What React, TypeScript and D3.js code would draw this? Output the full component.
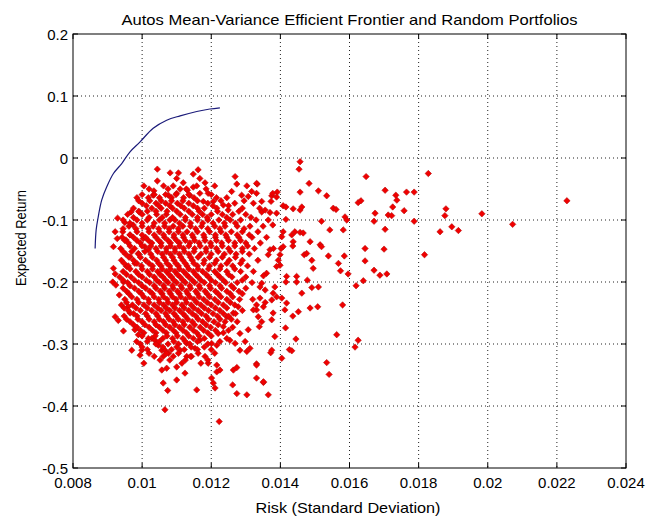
import React from "react";
import * as d3 from "d3";

const W = 646;
const H = 517;

const titleText = "Autos Mean-Variance Efficient Frontier and Random Portfolios";
const xLabelText = "Risk (Standard Deviation)";
const yLabelText = "Expected Return";

const xTickValues = [0.008, 0.01, 0.012, 0.014, 0.016, 0.018, 0.02, 0.022, 0.024];
const xTickLabels = ["0.008", "0.01", "0.012", "0.014", "0.016", "0.018", "0.02", "0.022", "0.024"];
const yTickValues = [0.2, 0.1, 0, -0.1, -0.2, -0.3, -0.4, -0.5];
const yTickLabels = ["0.2", "0.1", "0", "-0.1", "-0.2", "-0.3", "-0.4", "-0.5"];

const frontierRisk = [0.00864, 0.00867, 0.00873, 0.00883, 0.00898, 0.00917, 0.00941, 0.00965, 0.00994, 0.01032, 0.01071, 0.0111, 0.01158, 0.01196, 0.01225];
const frontierReturn = [-0.146, -0.116, -0.095, -0.068, -0.046, -0.025, -0.009, 0.01, 0.026, 0.048, 0.061, 0.068, 0.075, 0.079, 0.081];

// scattered random portfolios (risk, return)
const sparsePortfolios: [number, number][] = [
  [0.01828, -0.025], [0.01879, -0.082], [0.01876, -0.093], [0.01983, -0.09], [0.01862, -0.119],
  [0.01896, -0.111], [0.01915, -0.117], [0.01817, -0.156], [0.02072, -0.107], [0.02229, -0.069],
  [0.01457, -0.006], [0.01454, -0.018], [0.01648, -0.03], [0.01483, -0.041], [0.01703, -0.052],
  [0.01765, -0.055], [0.01787, -0.055], [0.01734, -0.06], [0.01737, -0.068], [0.01333, -0.042],
  [0.01331, -0.057], [0.0151, -0.053], [0.01534, -0.061], [0.01457, -0.055], [0.01625, -0.072],
  [0.01633, -0.069], [0.01725, -0.079], [0.01758, -0.085], [0.01674, -0.089], [0.01553, -0.081],
  [0.01561, -0.083], [0.01587, -0.095], [0.01592, -0.1], [0.01712, -0.092], [0.01722, -0.093],
  [0.01787, -0.102], [0.01671, -0.102], [0.01703, -0.115], [0.01582, -0.116], [0.01543, -0.116],
  [0.01519, -0.102], [0.01645, -0.146], [0.017, -0.147], [0.01645, -0.166], [0.01671, -0.181],
  [0.01688, -0.189], [0.01708, -0.187], [0.01585, -0.158], [0.01568, -0.17], [0.01574, -0.182],
  [0.01596, -0.187], [0.01539, -0.158], [0.01619, -0.206], [0.0164, -0.198], [0.0158, -0.237],
  [0.01563, -0.285], [0.01625, -0.294], [0.01616, -0.305], [0.01534, -0.33], [0.01541, -0.349],
  [0.01508, -0.24], [0.01486, -0.242], [0.0151, -0.208], [0.01491, -0.209], [0.01495, -0.178],
  [0.01491, -0.165], [0.01478, -0.197], [0.01447, -0.191], [0.01462, -0.218], [0.01452, -0.248],
  [0.01445, -0.292], [0.01426, -0.309], [0.01433, -0.311], [0.01404, -0.323], [0.01415, -0.274],
  [0.01436, -0.255], [0.01372, -0.314], [0.01331, -0.332], [0.01331, -0.355], [0.01351, -0.362],
  [0.01365, -0.382], [0.01486, -0.135], [0.01515, -0.14], [0.01519, -0.143], [0.01416, -0.099],
  [0.01437, -0.082], [0.01457, -0.084], [0.01462, -0.079], [0.01408, -0.077], [0.01416, -0.079],
  [0.01391, -0.055], [0.01375, -0.061], [0.01389, -0.063], [0.01373, -0.07], [0.01346, -0.087],
  [0.01356, -0.084], [0.01365, -0.1], [0.01378, -0.108], [0.01408, -0.119], [0.01404, -0.127],
  [0.01433, -0.124], [0.01442, -0.119], [0.01457, -0.12], [0.01466, -0.121], [0.01437, -0.135],
  [0.01436, -0.142], [0.01469, -0.156], [0.01476, -0.154], [0.01402, -0.146], [0.01408, -0.143],
  [0.0137, -0.148], [0.01365, -0.156], [0.01399, -0.156], [0.01394, -0.165], [0.01399, -0.173],
  [0.01389, -0.175], [0.01418, -0.191], [0.01416, -0.2], [0.01447, -0.2], [0.0136, -0.186],
  [0.01351, -0.19], [0.01346, -0.202], [0.01341, -0.208], [0.01384, -0.208], [0.01379, -0.218],
  [0.01389, -0.224], [0.01404, -0.226], [0.01356, -0.233], [0.01351, -0.24], [0.01331, -0.245],
  [0.01336, -0.256], [0.01346, -0.264], [0.01339, -0.272], [0.01379, -0.25], [0.01375, -0.261],
  [0.01418, -0.234], [0.01413, -0.245], [0.01384, -0.288],
  [0.01044, -0.018], [0.01044, -0.037], [0.01081, -0.024], [0.011, -0.033], [0.01105, -0.024],
  [0.01148, -0.026], [0.01162, -0.019], [0.01167, -0.033], [0.01119, -0.04], [0.01148, -0.047],
  [0.01182, -0.04], [0.01034, -0.053], [0.01032, -0.06], [0.01076, -0.06], [0.011, -0.057],
  [0.0111, -0.05], [0.01131, -0.052], [0.01138, -0.06], [0.01167, -0.057], [0.01191, -0.057],
  [0.01177, -0.07], [0.01206, -0.07], [0.01216, -0.081], [0.01235, -0.076], [0.01249, -0.084],
  [0.01269, -0.03], [0.01274, -0.042], [0.01303, -0.045], [0.01331, -0.041], [0.01259, -0.054],
  [0.01288, -0.06], [0.01307, -0.062], [0.01317, -0.054], [0.01346, -0.07], [0.01378, -0.057],
  [0.0137, -0.088], [0.01389, -0.089], [0.00968, -0.087], [0.00992, -0.087], [0.00929, -0.097],
  [0.0095, -0.104], [0.00974, -0.108], [0.00944, -0.119], [0.00965, -0.124], [0.00953, -0.132],
  [0.00922, -0.119], [0.00928, -0.13], [0.00917, -0.143], [0.00917, -0.178], [0.00922, -0.187],
  [0.00915, -0.2], [0.00924, -0.205], [0.00934, -0.221], [0.01003, -0.13], [0.01008, -0.143],
  [0.01018, -0.148], [0.00989, -0.154], [0.00965, -0.159], [0.00979, -0.17], [0.00955, -0.175],
  [0.00946, -0.2], [0.00922, -0.256], [0.00931, -0.262], [0.00965, -0.25], [0.0096, -0.24],
  [0.00946, -0.279], [0.0097, -0.31], [0.00999, -0.31], [0.00994, -0.318], [0.00984, -0.296],
  [0.00989, -0.285], [0.00979, -0.277], [0.01047, -0.302], [0.01057, -0.31], [0.01066, -0.31],
  [0.01061, -0.32], [0.01052, -0.326], [0.01076, -0.315], [0.01028, -0.291], [0.01037, -0.294],
  [0.01057, -0.342], [0.01071, -0.339], [0.01061, -0.363], [0.01074, -0.375], [0.011, -0.337],
  [0.011, -0.358], [0.01129, -0.32], [0.01143, -0.32], [0.01124, -0.347], [0.01158, -0.374],
  [0.01066, -0.406], [0.01223, -0.425], [0.01182, -0.32], [0.01191, -0.331], [0.01216, -0.334],
  [0.01216, -0.345], [0.01225, -0.342], [0.01201, -0.355], [0.01206, -0.363], [0.01211, -0.371],
  [0.01264, -0.342], [0.01274, -0.338], [0.01262, -0.366], [0.01274, -0.38], [0.01303, -0.382],
  [0.01331, -0.334], [0.01351, -0.361], [0.01375, -0.31], [0.01283, -0.31], [0.01303, -0.312],
  [0.01312, -0.307], [0.01269, -0.299], [0.01298, -0.296], [0.01307, -0.277], [0.01322, -0.245],
  [0.01331, -0.237], [0.01341, -0.226], [0.01356, -0.213], [0.01375, -0.229], [0.0122, -0.283],
  [0.01235, -0.272], [0.01254, -0.294], [0.01283, -0.283], [0.01245, -0.256], [0.01264, -0.25],
  [0.01278, -0.24], [0.01201, -0.299], [0.01216, -0.302], [0.01129, -0.299], [0.01153, -0.307],
  [0.01167, -0.294], [0.0111, -0.31],
];

// dense core of random portfolios: one return level per row with the risks read along it
const coreReturns = [
  -0.045, -0.064, -0.073, -0.081, -0.091, -0.1, -0.11, -0.119, -0.128, -0.137, -0.146, -0.155,
  -0.165, -0.174, -0.183, -0.192, -0.201, -0.21, -0.219, -0.228, -0.237, -0.246, -0.255, -0.264,
  -0.273, -0.282, -0.291, -0.3, -0.309, -0.32, -0.331,
];
const coreRisks: number[][] = [
  [0.01005, 0.01062, 0.0109, 0.01158, 0.0121],
  [0.00985, 0.01018, 0.0105, 0.01085, 0.0112, 0.0115, 0.01215, 0.01245],
  [0.01, 0.0104, 0.01068, 0.01102, 0.01135, 0.0119, 0.01268, 0.01322],
  [0.00975, 0.01028, 0.01055, 0.01088, 0.01122, 0.0116, 0.0118, 0.0129, 0.0134],
  [0.00958, 0.01, 0.01042, 0.0107, 0.0111, 0.01145, 0.01175, 0.012, 0.01232, 0.01262, 0.013],
  [0.00945, 0.00985, 0.01015, 0.0105, 0.0108, 0.01095, 0.01125, 0.0116, 0.0119, 0.01222, 0.01255, 0.01285, 0.0133],
  [0.00962, 0.01, 0.01032, 0.01065, 0.0109, 0.01118, 0.0114, 0.01172, 0.0121, 0.0124, 0.01275, 0.01312, 0.0135],
  [0.00985, 0.0102, 0.0105, 0.01078, 0.01105, 0.0113, 0.0116, 0.01195, 0.01228, 0.01258, 0.0129, 0.01335],
  [0.00942, 0.00975, 0.0101, 0.0104, 0.01065, 0.01092, 0.0112, 0.01148, 0.0118, 0.01212, 0.01245, 0.0128, 0.01318, 0.0136],
  [0.0096, 0.00995, 0.01028, 0.01055, 0.01082, 0.01108, 0.01138, 0.01165, 0.01198, 0.0123, 0.01268, 0.013, 0.01342],
  [0.00938, 0.00978, 0.0104, 0.0107, 0.01095, 0.0112, 0.01152, 0.01185, 0.01215, 0.0125, 0.0129, 0.01325, 0.0138],
  [0.00952, 0.0099, 0.01025, 0.01058, 0.01082, 0.01108, 0.01135, 0.0117, 0.012, 0.01238, 0.01272, 0.0131],
  [0.0094, 0.00975, 0.0101, 0.01042, 0.01068, 0.01092, 0.01118, 0.01145, 0.0118, 0.01215, 0.01252, 0.0129, 0.01335],
  [0.0096, 0.00998, 0.0103, 0.01055, 0.0108, 0.01105, 0.0113, 0.0116, 0.01195, 0.01228, 0.01262, 0.01305],
  [0.00945, 0.00982, 0.01015, 0.01045, 0.0107, 0.01095, 0.0112, 0.01148, 0.01175, 0.0121, 0.01245, 0.01285, 0.01322],
  [0.00935, 0.00968, 0.01, 0.01035, 0.0106, 0.01085, 0.0111, 0.01135, 0.01162, 0.01192, 0.01225, 0.0126, 0.013],
  [0.00958, 0.0099, 0.01022, 0.0105, 0.01075, 0.011, 0.01125, 0.01152, 0.0118, 0.01212, 0.01242, 0.01275, 0.01318],
  [0.00945, 0.00978, 0.0101, 0.0104, 0.01065, 0.0109, 0.01115, 0.0114, 0.01168, 0.01198, 0.0123, 0.01265, 0.013],
  [0.00962, 0.00998, 0.0103, 0.01058, 0.01082, 0.01108, 0.01132, 0.0116, 0.01188, 0.0122, 0.01255, 0.0129],
  [0.0095, 0.00985, 0.01018, 0.01048, 0.01072, 0.01098, 0.01125, 0.0115, 0.01178, 0.0121, 0.01245, 0.01282, 0.0132],
  [0.0094, 0.00972, 0.01005, 0.01035, 0.01062, 0.01088, 0.01115, 0.01142, 0.0117, 0.012, 0.01235, 0.01268],
  [0.0096, 0.00995, 0.01028, 0.01055, 0.0108, 0.01108, 0.01135, 0.01162, 0.01192, 0.01225, 0.0129],
  [0.00948, 0.00985, 0.01015, 0.01045, 0.01072, 0.01098, 0.01125, 0.01155, 0.01185, 0.01218, 0.0125],
  [0.00965, 0.01, 0.01035, 0.01062, 0.0109, 0.01118, 0.01145, 0.01175, 0.01208, 0.0124, 0.01275],
  [0.00985, 0.0102, 0.0105, 0.0108, 0.01108, 0.01138, 0.01168, 0.01198, 0.01262],
  [0.01005, 0.0104, 0.0107, 0.01098, 0.01128, 0.01158, 0.0119, 0.01235],
  [0.01018, 0.0106, 0.01088, 0.01118, 0.01148, 0.0118, 0.01245],
  [0.00995, 0.0104, 0.01075, 0.01105, 0.01138, 0.0119],
  [0.01015, 0.01085, 0.01122, 0.0116, 0.012],
  [0.01035, 0.0109, 0.0114],
  [0.01005, 0.01115, 0.0117],
];

// in-between rows of the dense core
const coreReturnsB = [
  -0.05, -0.059, -0.069, -0.077, -0.086, -0.096, -0.105, -0.114, -0.124, -0.133, -0.142, -0.151,
  -0.16, -0.17, -0.179, -0.188, -0.197, -0.206, -0.215, -0.224, -0.233, -0.242, -0.251, -0.26,
  -0.269, -0.278, -0.287, -0.296, -0.305, -0.315, -0.326,
];
const coreRisksB: number[][] = [
  [0.0102, 0.01075, 0.01128, 0.01185],
  [0.01, 0.01035, 0.01068, 0.01098, 0.01135, 0.012],
  [0.0099, 0.01022, 0.01055, 0.01085, 0.01118, 0.0116, 0.01228, 0.01295],
  [0.01012, 0.01048, 0.0108, 0.01112, 0.01148, 0.01205, 0.0125],
  [0.0099, 0.01015, 0.0104, 0.01072, 0.011, 0.01135, 0.01165, 0.01218, 0.0128],
  [0.00975, 0.0102, 0.01058, 0.01088, 0.01125, 0.0116, 0.01188, 0.01245, 0.01315],
  [0.00965, 0.01, 0.01035, 0.01065, 0.01108, 0.0114, 0.01175, 0.01205, 0.01238, 0.0127],
  [0.00945, 0.00982, 0.01018, 0.01048, 0.01078, 0.01105, 0.01155, 0.0119, 0.01225, 0.01295],
  [0.00965, 0.01, 0.01035, 0.01062, 0.01092, 0.01118, 0.01145, 0.01178, 0.01212, 0.01242, 0.01275, 0.0131],
  [0.0095, 0.00985, 0.01018, 0.01048, 0.01075, 0.011, 0.01125, 0.01152, 0.01182, 0.01215, 0.0125, 0.01285],
  [0.00965, 0.01, 0.01025, 0.01055, 0.01082, 0.01108, 0.01135, 0.01168, 0.012, 0.01232, 0.01268, 0.01305],
  [0.00945, 0.0097, 0.01008, 0.01045, 0.0107, 0.01095, 0.01122, 0.0115, 0.01185, 0.0122, 0.01255, 0.0129],
  [0.00962, 0.00995, 0.0103, 0.01062, 0.01088, 0.01112, 0.0114, 0.01162, 0.01195, 0.01232, 0.0127],
  [0.00948, 0.00985, 0.0102, 0.01048, 0.01072, 0.01098, 0.01125, 0.0115, 0.01178, 0.0121, 0.01245, 0.01285],
  [0.00965, 0.01, 0.0103, 0.01058, 0.01082, 0.01108, 0.01135, 0.01162, 0.01192, 0.01225, 0.01268],
  [0.00955, 0.0099, 0.01022, 0.01052, 0.01078, 0.01102, 0.01128, 0.01155, 0.01185, 0.01218, 0.0125],
  [0.00945, 0.00978, 0.01012, 0.01042, 0.01068, 0.01092, 0.01118, 0.01145, 0.0117, 0.012, 0.01235, 0.0129],
  [0.00965, 0.01, 0.01035, 0.01062, 0.01088, 0.01112, 0.01138, 0.01165, 0.01195, 0.01225, 0.01258],
  [0.00955, 0.0099, 0.01022, 0.01052, 0.01078, 0.01102, 0.01128, 0.01155, 0.01182, 0.01212, 0.01245, 0.0128],
  [0.0097, 0.01005, 0.01035, 0.01062, 0.01088, 0.01112, 0.01138, 0.01165, 0.01195, 0.01228, 0.01262],
  [0.00955, 0.0099, 0.0102, 0.0105, 0.01075, 0.011, 0.01128, 0.01158, 0.01188, 0.0122, 0.01255],
  [0.00948, 0.00982, 0.01015, 0.01045, 0.0107, 0.01095, 0.01122, 0.0115, 0.0118, 0.01212, 0.01245],
  [0.00975, 0.0101, 0.0104, 0.01068, 0.01092, 0.01118, 0.01145, 0.01172, 0.01205, 0.01235, 0.0127],
  [0.00955, 0.00988, 0.0102, 0.0105, 0.01078, 0.01105, 0.01132, 0.01162, 0.01192, 0.01225, 0.01258],
  [0.00975, 0.01008, 0.0104, 0.01068, 0.01095, 0.01122, 0.01152, 0.01185, 0.0122],
  [0.00995, 0.0103, 0.0106, 0.0109, 0.01118, 0.01148, 0.01178, 0.01212, 0.0125],
  [0.01, 0.01038, 0.01072, 0.01102, 0.01135, 0.01165, 0.012],
  [0.01015, 0.0105, 0.01092, 0.01125, 0.0116, 0.01225],
  [0.01, 0.0106, 0.011, 0.01142, 0.0118],
  [0.0102, 0.0107, 0.01105, 0.01162, 0.0121],
  [0.0108, 0.01125, 0.0119],
];

const FONT = "'Liberation Sans', Arial, Helvetica, sans-serif";

export default function App() {
  const left = 73, right = 626, top = 34, bottom = 468;
  const x = d3.scaleLinear().domain([0.008, 0.024]).range([left, right]);
  const y = d3.scaleLinear().domain([-0.5, 0.2]).range([bottom, top]);

  const points: [number, number][] = [...sparsePortfolios];
  coreReturns.forEach((r, i) => coreRisks[i].forEach((s) => points.push([s, r])));
  coreReturnsB.forEach((r, i) => coreRisksB[i].forEach((s) => points.push([s, r])));

  const frontier = frontierRisk.map((r, i) => [r, frontierReturn[i]] as [number, number]);
  const line = d3
    .line<[number, number]>()
    .x((d) => x(d[0]))
    .y((d) => y(d[1]))
    .curve(d3.curveCatmullRom);

  const diamond = (cx: number, cy: number) => {
    const h = 3.2;
    return `M${cx},${cy - h}L${cx + h},${cy}L${cx},${cy + h}L${cx - h},${cy}Z`;
  };

  const tickLen = 5;

  return (
    <svg
      width={W}
      height={H}
      style={{ position: "absolute", left: 0, top: 0, display: "block", background: "#fff" }}
      fontFamily={FONT}
    >
      <rect x={0} y={0} width={W} height={H} fill="#fff" />
      {xTickValues.slice(1, -1).map((v) => (
        <line key={"gx" + v} x1={x(v)} x2={x(v)} y1={top} y2={bottom} stroke="#222" strokeWidth={1} strokeDasharray="1 3" />
      ))}
      {yTickValues.slice(1, -1).map((v) => (
        <line key={"gy" + v} x1={left} x2={right} y1={y(v)} y2={y(v)} stroke="#222" strokeWidth={1} strokeDasharray="1 3" />
      ))}
      <path d={line(frontier) || ""} fill="none" stroke="#1b1b7a" strokeWidth={1.2} />
      {points.map((p, i) => (
        <path key={"p" + i} d={diamond(x(p[0]), y(p[1]))} fill="#f00000" stroke="#b80c0c" strokeWidth={0.6} />
      ))}
      <rect x={left} y={top} width={right - left} height={bottom - top} fill="none" stroke="#000" strokeWidth={1} />
      {xTickValues.map((v) => (
        <g key={"tx" + v}>
          <line x1={x(v)} x2={x(v)} y1={bottom} y2={bottom - tickLen} stroke="#000" />
          <line x1={x(v)} x2={x(v)} y1={top} y2={top + tickLen} stroke="#000" />
        </g>
      ))}
      {yTickValues.map((v) => (
        <g key={"ty" + v}>
          <line x1={left} x2={left + tickLen} y1={y(v)} y2={y(v)} stroke="#000" />
          <line x1={right} x2={right - tickLen} y1={y(v)} y2={y(v)} stroke="#000" />
        </g>
      ))}
      {xTickValues.map((v, i) => (
        <text key={"lx" + v} x={x(v)} y={bottom + 20} textAnchor="middle" fontSize={15} fill="#000">
          {xTickLabels[i]}
        </text>
      ))}
      {yTickValues.map((v, i) => (
        <text key={"ly" + v} x={left - 5} y={y(v) + 5.5} textAnchor="end" fontSize={15} fill="#000">
          {yTickLabels[i]}
        </text>
      ))}
      <text x={(left + right) / 2} y={25} textAnchor="middle" fontSize={15} textLength={456} lengthAdjust="spacingAndGlyphs" fill="#000">
        {titleText}
      </text>
      <text x={348} y={513} textAnchor="middle" fontSize={15} textLength={185} lengthAdjust="spacingAndGlyphs" fill="#000">
        {xLabelText}
      </text>
      <text transform={`translate(26,238) rotate(-90)`} textAnchor="middle" fontSize={15} textLength={96} lengthAdjust="spacingAndGlyphs" fill="#000">
        {yLabelText}
      </text>
    </svg>
  );
}
